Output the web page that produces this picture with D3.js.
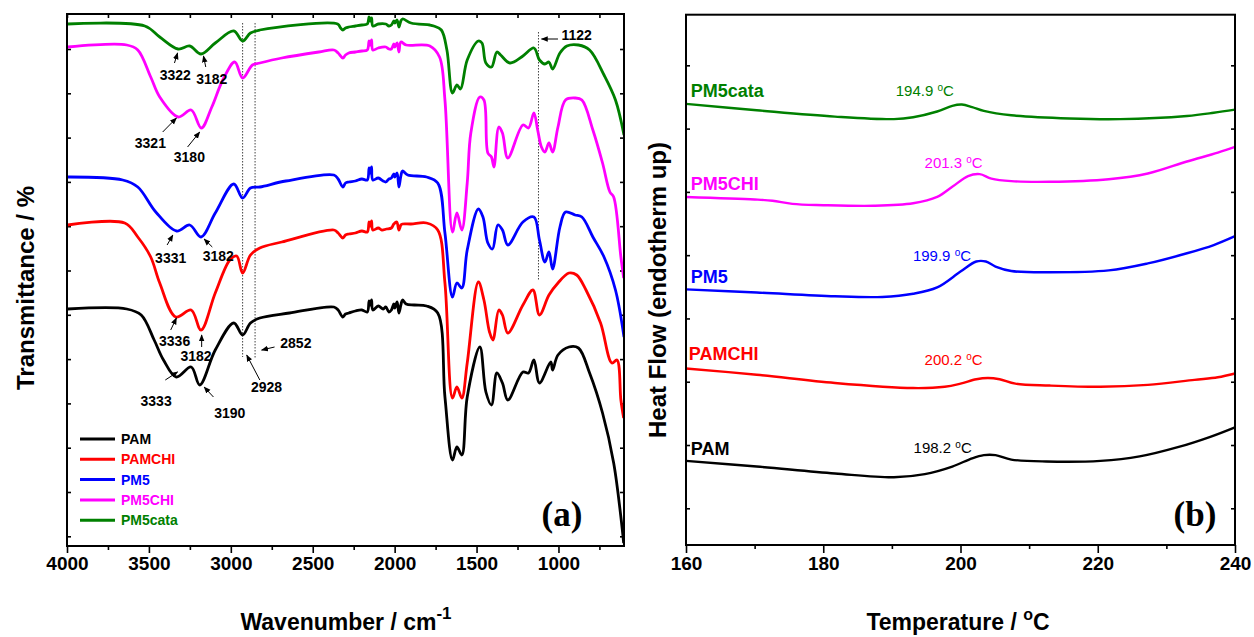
<!DOCTYPE html>
<html>
<head>
<meta charset="utf-8">
<script src="https://cdn.jsdelivr.net/npm/d3@7"></script>
<style>
  body { margin: 0; background: #fff; }
  svg { display: block; }
</style>
</head>
<body>
<svg id="chart" width="1254" height="637" font-family="Liberation Sans, Arial, Helvetica, sans-serif"></svg>
<script>
// ---------- (a) FTIR spectra: [wavenumber cm-1, transmittance (a.u., stacked)] ----------
const ftirPAM = [
  [3996,237],[3635,237],[3547,231],[3468,206],[3411,186],[3333,169],[3242,179],[3190,161],
  [3095,196],[2982,223],[2928,211],[2880,223],[2823,228],[2642,233],[2371,239],[2345,236],
  [2316,229],[2300,232],[2280,233],[2240,235],[2200,236],[2167,234],[2156,245],[2149,241],
  [2141,246],[2133,236],[2100,240],[2070,237],[2054,239],[2035,234],[2020,236],[2005,242],
  [1999,238],[1985,244],[1974,233],[1962,241],[1952,246],[1930,242],[1880,241],[1805,240],
  [1737,233],[1693,149],[1647,86],[1620,99],[1590,91],[1557,149],[1480,199],[1443,154],
  [1409,141],[1376,173],[1342,163],[1309,146],[1217,174],[1183,173],[1150,186],[1116,163],
  [1047,184],[1036,176],[1003,191],[936,199],[878,198],[810,173],[731,133],[663,83],
  [619,29],[602,3]
];
const ftirPAMCHI = [
  [3996,321],[3648,323],[3568,309],[3489,289],[3434,263],[3336,229],[3242,236],[3182,216],
  [3095,253],[3006,286],[2964,290],[2928,273],[2880,291],[2823,298],[2689,304],[2371,316],
  [2345,313],[2316,308],[2300,311],[2280,312],[2240,313],[2200,315],[2167,314],[2156,324],
  [2149,320],[2141,325],[2133,316],[2100,318],[2078,316],[2050,317],[2020,318],[2005,322],
  [1987,324],[1974,316],[1962,321],[1952,322],[1900,322],[1805,323],[1737,316],[1693,263],
  [1647,148],[1620,159],[1590,148],[1557,183],[1489,264],[1455,246],[1421,214],[1400,206],
  [1364,236],[1342,231],[1309,213],[1217,241],[1156,256],[1116,231],[1058,251],[1003,263],
  [936,273],[889,271],[832,256],[743,223],[674,183],[643,186],[619,146],[602,128]
];
const ftirPM5 = [
  [3996,369],[3660,366],[3568,359],[3458,334],[3331,315],[3251,321],[3182,309],[3095,333],
  [2982,362],[2928,348],[2880,358],[2823,359],[2664,365],[2371,371],[2345,367],[2316,359],
  [2300,363],[2280,364],[2240,365],[2200,367],[2167,366],[2156,378],[2149,373],[2141,379],
  [2133,366],[2100,368],[2070,365],[2054,364],[2035,367],[2020,368],[2005,372],[1999,369],
  [1985,373],[1974,359],[1962,370],[1952,375],[1920,371],[1805,369],[1737,363],[1693,313],
  [1647,249],[1620,263],[1590,258],[1557,296],[1489,337],[1461,329],[1431,303],[1403,297],
  [1370,321],[1342,316],[1309,301],[1217,324],[1150,329],[1116,306],[1083,284],[1058,294],
  [1036,277],[991,319],[957,334],[899,331],[857,329],[790,309],[722,289],[652,256],[600,209]
];
const ftirPM5CHI = [
  [3996,499],[3635,501],[3568,496],[3489,469],[3434,449],[3321,429],[3242,436],[3180,418],
  [3116,439],[3049,466],[2976,484],[2928,468],[2868,481],[2823,483],[2689,488],[2463,494],
  [2371,496],[2345,493],[2316,488],[2300,491],[2280,493],[2240,494],[2200,495],[2167,496],
  [2156,505],[2149,501],[2141,506],[2133,496],[2100,498],[2054,499],[2035,497],[2020,497],
  [2005,502],[1999,499],[1985,503],[1974,494],[1962,504],[1930,501],[1785,500],[1726,489],
  [1693,446],[1647,314],[1620,333],[1590,316],[1557,363],[1535,413],[1480,449],[1455,446],
  [1431,393],[1409,389],[1394,379],[1364,419],[1342,413],[1309,388],[1217,421],[1183,418],
  [1150,433],[1127,416],[1104,399],[1083,394],[1058,403],[1036,394],[1003,419],[957,446],
  [899,448],[857,446],[790,416],[731,383],[686,354],[663,349],[619,289],[602,268]
];
const ftirPM5cata = [
  [3996,522],[3525,520],[3434,509],[3322,497],[3251,500],[3182,492],[3095,503],[2982,515],
  [2928,505],[2880,513],[2823,516],[2348,522],[2330,518],[2316,516],[2300,518],[2280,519],
  [2240,520],[2200,521],[2167,522],[2156,529],[2149,525],[2141,528],[2133,520],[2100,522],
  [2054,522],[2035,520],[2020,521],[2005,525],[1999,523],[1985,526],[1974,519],[1962,525],
  [1952,527],[1900,523],[1785,521],[1761,520],[1715,516],[1681,496],[1647,453],[1620,461],
  [1598,457],[1557,486],[1489,505],[1467,503],[1443,483],[1409,479],[1376,494],[1353,491],
  [1296,483],[1217,490],[1150,498],[1116,486],[1083,482],[1058,484],[1036,477],[991,493],
  [949,500],[878,501],[810,496],[722,471],[652,446],[600,411]
];
const ftirNames  = ["PAM", "PAMCHI", "PM5", "PM5CHI", "PM5cata"];
const ftirColors = ["#000000", "#ff0000", "#0000ff", "#ff00ff", "#008000"];
const ftirData   = [ftirPAM, ftirPAMCHI, ftirPM5, ftirPM5CHI, ftirPM5cata];

const wnDomain   = [4000, 600];
const wnMajor    = [4000, 3500, 3000, 2500, 2000, 1500, 1000];
const wnMinor    = [3750, 3250, 2750, 2250, 1750, 1250, 750];
const transDomain = [0, 532];
const transTicks = [9.7, 54, 98.3, 142.6, 186.9, 231.2, 275.5, 319.8, 364.1, 408.4, 452.7, 497];

// band guides: [wavenumber, from, to]
const bandGuides = [[2928, 523, 189], [2852, 523, 188], [1122, 514, 266]];
// band labels: [text, x, y] and arrows: [x1, y1, x2, y2] (arrow head at x2,y2)
const bandLabels = [
  ["3322", 3339, 471], ["3182", 3116, 467], ["3321", 3491, 403], ["3180", 3253, 389],
  ["1122", 889, 511], ["3331", 3367, 288], ["3182", 3077, 290], ["3336", 3343, 205],
  ["3182", 3212, 190], ["2852", 2603, 203], ["2928", 2782, 159], ["3333", 3456, 145],
  ["3190", 3006, 133]
];
const bandArrows = [
  [3344,483,3325,493], [3153,479,3167,490], [3416,414,3332,428], [3264,399,3190,414],
  [1003,507,1104,507], [3389,301,3354,311], [3113,299,3163,307], [3367,216,3332,228],
  [3178,199,3178,211], [2733,199,2812,196], [2823,166,2903,191], [3400,166,3325,174],
  [3106,149,3163,159]
];

// ---------- (b) DSC curves: [temperature °C, heat flow (a.u., stacked)] ----------
const dscPAM = [
  [160,0.75],[170.3,0.66],[181.7,0.55],[190.3,0.49],[194.8,0.54],[198.8,0.66],[201.7,0.79],
  [203.4,0.84],[205.1,0.84],[207.4,0.77],[212.5,0.74],[220.4,0.75],[226.1,0.82],[231.8,0.97],
  [236.4,1.13],[240,1.28]
];
const dscPAMCHI = [
  [160,2.21],[170.3,2.11],[181.7,1.98],[193.1,1.90],[197.7,1.92],[200,1.97],[202.3,2.04],
  [204,2.06],[205.7,2.04],[208,1.97],[213,1.94],[220.4,1.92],[227.3,1.95],[234.1,2.03],
  [237.5,2.07],[240,2.13]
];
const dscPM5 = [
  [160,3.46],[170.3,3.41],[181.7,3.35],[188.6,3.34],[193.1,3.39],[196.6,3.49],[200,3.74],
  [202.3,3.90],[203.7,3.90],[205.1,3.82],[207.4,3.75],[213,3.73],[221.6,3.76],[227.3,3.87],
  [233,4.03],[236.9,4.16],[240,4.30]
];
const dscPM5CHI = [
  [160,4.92],[170,4.88],[172.6,4.86],[175.5,4.81],[180,4.79],[187.4,4.78],[193.1,4.82],
  [196.6,4.92],[198.8,5.08],[201.1,5.25],[202.8,5.28],[204.5,5.21],[207.4,5.17],[213,5.16],
  [221.6,5.20],[227.3,5.29],[233,5.48],[237.5,5.62],[240,5.71]
];
const dscPM5cata = [
  [160,6.39],[170.3,6.29],[181.7,6.19],[190.3,6.15],[193.1,6.18],[196.6,6.27],[198.8,6.36],
  [200.2,6.38],[201.7,6.34],[203.4,6.28],[207.4,6.21],[215.9,6.16],[223.3,6.15],[233,6.20],
  [236.9,6.25],[240,6.30]
];
const dscData  = [dscPAM, dscPAMCHI, dscPM5, dscPM5CHI, dscPM5cata];
const dscPeakText = ["198.2", "200.2", "199.9", "201.3", "194.9"];
// name label anchors and peak label anchors, in [temperature, heat flow]
const dscNamePos = [[160.7,0.84],[160.4,2.34],[160.7,3.56],[160.7,5.03],[160.7,6.50]];
const dscPeakPos = [[197.4,0.87],[199.0,2.26],[197.3,3.90],[199.0,5.37],[194.8,6.51]];

const tempDomain = [160, 240];
const tempMajor  = [160, 180, 200, 220, 240];
const tempMinor  = [170, 190, 210, 230];
const hfDomain   = [-0.58, 7.80];
const hfTicks    = [0, 1, 2, 3, 4, 5, 6, 7];

// ---------- drawing ----------
const SANS = "Liberation Sans, Arial, Helvetica, sans-serif";
const SERIF = "Liberation Serif, Times New Roman, Times, serif";
const svg = d3.select("#chart");
const defs = svg.append("defs");
defs.append("marker").attr("id", "arrowHead")
  .attr("viewBox", "0 0 10 10").attr("refX", 9).attr("refY", 5)
  .attr("markerWidth", 7).attr("markerHeight", 7).attr("orient", "auto-start-reverse")
  .attr("markerUnits", "userSpaceOnUse")
  .append("path").attr("d", "M0,1 L10,5 L0,9 Z").attr("fill", "#000");

function frame(g, x0, y0, x1, y1) {
  g.append("rect").attr("x", x0).attr("y", y0).attr("width", x1 - x0).attr("height", y1 - y0)
    .attr("fill", "none").attr("stroke", "#000").attr("stroke-width", 2);
}
function styleAxis(sel) {
  sel.select(".domain").remove();
  sel.selectAll(".tick line").attr("stroke", "#000").attr("stroke-width", 1.6);
}
function styleTickText(sel) {
  sel.selectAll("text").attr("font-size", 19).attr("font-weight", "bold")
    .attr("fill", "#000").attr("font-family", SANS);
}

// ----- panel (a) -----
const xA = d3.scaleLinear().domain(wnDomain).range([67, 624]);
const yA = d3.scaleLinear().domain(transDomain).range([546, 14]);
const gA = svg.append("g");

defs.append("clipPath").attr("id", "clipA").append("rect")
  .attr("x", 67).attr("y", 14).attr("width", 557).attr("height", 532);

gA.append("g").attr("transform", "translate(0,546)")
  .call(d3.axisBottom(xA).tickValues(wnMajor).tickSize(7).tickPadding(4).tickFormat(d3.format("d")))
  .call(styleAxis).call(styleTickText);
gA.append("g").attr("transform", "translate(0,546)")
  .call(d3.axisBottom(xA).tickValues(wnMinor).tickSize(4).tickFormat(""))
  .call(styleAxis);
gA.append("g").attr("transform", "translate(0,14)")
  .call(d3.axisTop(xA).tickValues(wnMajor.concat(wnMinor)).tickSize(-4).tickFormat(""))
  .call(styleAxis);
gA.append("g").attr("transform", "translate(67,0)")
  .call(d3.axisLeft(yA).tickValues(transTicks).tickSize(-4).tickFormat(""))
  .call(styleAxis);
gA.append("g").attr("transform", "translate(624,0)")
  .call(d3.axisRight(yA).tickValues(transTicks).tickSize(-4).tickFormat(""))
  .call(styleAxis);

// band guide lines
gA.selectAll(".guide").data(bandGuides).join("line")
  .attr("x1", d => xA(d[0])).attr("x2", d => xA(d[0]))
  .attr("y1", d => yA(d[1])).attr("y2", d => yA(d[2]))
  .attr("stroke", "#444").attr("stroke-width", 1).attr("stroke-dasharray", "1.5,1.5");

// spectra
const lineA = d3.line().x(d => xA(d[0])).y(d => yA(d[1])).curve(d3.curveCatmullRom.alpha(0.5));
gA.append("g").attr("clip-path", "url(#clipA)")
  .selectAll("path").data(ftirData).join("path")
  .attr("d", lineA).attr("fill", "none")
  .attr("stroke", (d, i) => ftirColors[i]).attr("stroke-width", 2.8)
  .attr("stroke-linejoin", "round");

// band annotations
gA.selectAll(".bandArrow").data(bandArrows).join("line")
  .attr("x1", d => xA(d[0])).attr("y1", d => yA(d[1]))
  .attr("x2", d => xA(d[2])).attr("y2", d => yA(d[3]))
  .attr("stroke", "#000").attr("stroke-width", 1).attr("marker-end", "url(#arrowHead)");
gA.selectAll(".bandLabel").data(bandLabels).join("text")
  .attr("x", d => xA(d[1])).attr("y", d => yA(d[2]) + 5)
  .attr("text-anchor", "middle").attr("font-size", 14).attr("font-weight", "bold")
  .text(d => d[0]);

frame(gA, 67, 14, 624, 546);

// legend
const legA = gA.append("g");
ftirNames.forEach((name, i) => {
  const y = 439 + i * 20.3;
  legA.append("line").attr("x1", 80).attr("x2", 115).attr("y1", y).attr("y2", y)
    .attr("stroke", ftirColors[i]).attr("stroke-width", 3);
  legA.append("text").attr("x", 121).attr("y", y + 5).attr("font-size", 14)
    .attr("font-weight", "bold").attr("fill", ftirColors[i]).text(name);
});

gA.append("text").attr("x", 562).attr("y", 526).attr("text-anchor", "middle")
  .attr("font-family", SERIF).attr("font-weight", "bold")
  .attr("font-size", 35).text("(a)");

// axis titles
const xtA = gA.append("text").attr("x", 346).attr("y", 630).attr("text-anchor", "middle")
  .attr("font-size", 23).attr("font-weight", "bold");
xtA.append("tspan").text("Wavenumber / cm");
xtA.append("tspan").attr("dy", -11).attr("font-size", 17).text("-1");
gA.append("text").attr("transform", "translate(34,288) rotate(-90)").attr("text-anchor", "middle")
  .attr("font-size", 24).attr("font-weight", "bold").text("Transmittance / %");

// ----- panel (b) -----
const xB = d3.scaleLinear().domain(tempDomain).range([686, 1235]);
const yB = d3.scaleLinear().domain(hfDomain).range([545, 14.7]);
const gB = svg.append("g");

gB.append("g").attr("transform", "translate(0,545)")
  .call(d3.axisBottom(xB).tickValues(tempMajor).tickSize(8).tickPadding(4).tickFormat(d3.format("d")))
  .call(styleAxis).call(styleTickText);
gB.append("g").attr("transform", "translate(0,545)")
  .call(d3.axisBottom(xB).tickValues(tempMinor).tickSize(4).tickFormat(""))
  .call(styleAxis);
gB.append("g").attr("transform", "translate(686,0)")
  .call(d3.axisLeft(yB).tickValues(hfTicks).tickSize(-4).tickFormat(""))
  .call(styleAxis);
gB.append("g").attr("transform", "translate(1235,0)")
  .call(d3.axisRight(yB).tickValues(hfTicks).tickSize(-4).tickFormat(""))
  .call(styleAxis);

const lineB = d3.line().x(d => xB(d[0])).y(d => yB(d[1])).curve(d3.curveCatmullRom.alpha(0.5));
gB.append("g").selectAll("path").data(dscData).join("path")
  .attr("d", lineB).attr("fill", "none")
  .attr("stroke", (d, i) => ftirColors[i]).attr("stroke-width", 2.4);

gB.selectAll(".dscName").data(ftirNames).join("text")
  .attr("x", (d, i) => xB(dscNamePos[i][0])).attr("y", (d, i) => yB(dscNamePos[i][1]))
  .attr("font-size", 18).attr("font-weight", "bold").attr("fill", (d, i) => ftirColors[i])
  .text(d => d);

dscPeakText.forEach((t, i) => {
  const txt = gB.append("text")
    .attr("x", xB(dscPeakPos[i][0])).attr("y", yB(dscPeakPos[i][1]))
    .attr("text-anchor", "middle").attr("font-size", 15).attr("fill", ftirColors[i]);
  txt.append("tspan").text(t + " ");
  txt.append("tspan").attr("dy", -5).attr("font-size", 10).text("o");
  txt.append("tspan").attr("dy", 5).text("C");
});

frame(gB, 686, 14.7, 1235, 545);

gB.append("text").attr("x", 1195).attr("y", 526).attr("text-anchor", "middle")
  .attr("font-family", SERIF).attr("font-weight", "bold")
  .attr("font-size", 35).text("(b)");

const xtB = gB.append("text").attr("x", 958).attr("y", 630).attr("text-anchor", "middle")
  .attr("font-size", 23).attr("font-weight", "bold");
xtB.append("tspan").text("Temperature / ");
xtB.append("tspan").attr("dy", -10).attr("font-size", 16).text("o");
xtB.append("tspan").attr("dy", 10).text("C");
gB.append("text").attr("transform", "translate(666,290) rotate(-90)").attr("text-anchor", "middle")
  .attr("font-size", 24).attr("font-weight", "bold").text("Heat Flow (endotherm up)");
</script>
</body>
</html>
